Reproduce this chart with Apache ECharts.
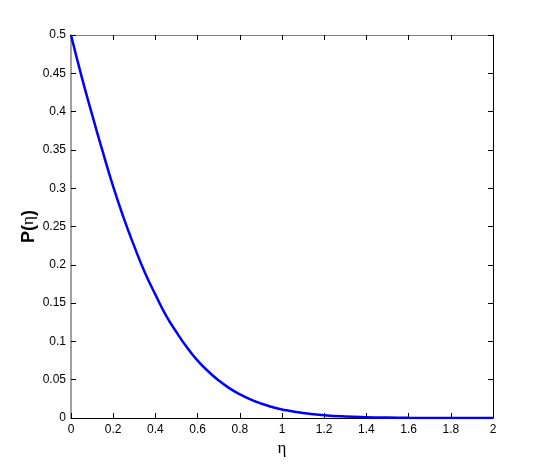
<!DOCTYPE html>
<html>
<head>
<meta charset="utf-8">
<script src="https://cdn.jsdelivr.net/npm/echarts@6/dist/echarts.min.js"></script>
<style>
  html, body { margin: 0; padding: 0; background: #fff; }
  #chart { width: 545px; height: 471px; }
</style>
</head>
<body>
<div id="chart"></div>
<script>
// values
const etaValues = [0, 0.05, 0.1, 0.15, 0.2, 0.25, 0.3, 0.35, 0.4, 0.45, 0.5, 0.55, 0.6, 0.65, 0.7, 0.75, 0.8, 0.85, 0.9, 0.95, 1.0, 1.1, 1.2, 1.3, 1.4, 1.5, 1.6, 1.7, 1.8, 1.9, 2.0];
const pValues = [0.5, 0.446, 0.396, 0.348, 0.302, 0.261, 0.224, 0.19, 0.161, 0.134, 0.112, 0.092, 0.075, 0.061, 0.049, 0.039, 0.031, 0.0243, 0.0189, 0.0146, 0.0112, 0.0064, 0.0036, 0.0019, 0.001, 0.0005, 0.0002, 0.0001, 0, 0, 0];
const xTicks = { min: 0, max: 2, step: 0.2 };
const yTicks = { min: 0, max: 0.5, step: 0.05 };

const chartDom = document.getElementById("chart");
const myChart = echarts.init(chartDom);

const labelFont = { color: "#000", fontSize: 12, fontFamily: "Liberation Sans" };

const seriesData = etaValues.map((x, i) => [x, pValues[i]]);

// mirrored axes for the top and right sides of the box
const boxAxis = (position, color) => ({
  type: "value",
  position: position,
  axisLine: { onZero: false, lineStyle: { color: color, width: 1 } },
  axisTick: { inside: true, length: 5, lineStyle: { color: "#000" } },
  axisLabel: { show: false },
  splitLine: { show: false },
});

let option = {
  animation: false,
  grid: { left: 71, right: 52, top: 35, bottom: 53 },
  xAxis: [
    {
      type: "value",
      min: xTicks.min,
      max: xTicks.max,
      interval: xTicks.step,
      position: "bottom",
      name: "η",
      nameLocation: "middle",
      nameGap: 22,
      nameMoveOverlap: false,
      nameTextStyle: { color: "#000", fontSize: 17, fontFamily: "Liberation Serif" },
      axisLine: { onZero: false, lineStyle: { color: "#000", width: 1 } },
      axisTick: { inside: true, length: 5, lineStyle: { color: "#000" } },
      axisLabel: Object.assign({ margin: 6 }, labelFont),
      splitLine: { show: false },
    },
    Object.assign(boxAxis("top", "#808080"), {
      min: xTicks.min,
      max: xTicks.max,
      interval: xTicks.step,
    }),
  ],
  yAxis: [
    {
      type: "value",
      min: yTicks.min,
      max: yTicks.max,
      interval: yTicks.step,
      position: "left",
      name: "{a|P(}{b|η}{a|)}",
      nameLocation: "middle",
      nameGap: 33,
      nameMoveOverlap: false,
      nameTextStyle: {
        rich: {
          a: { color: "#000", fontSize: 18, fontWeight: "bold", fontFamily: "Liberation Sans" },
          b: { color: "#000", fontSize: 17, fontFamily: "Liberation Serif" },
        },
      },
      axisLine: { onZero: false, lineStyle: { color: "#808080", width: 1.5 } },
      axisTick: { inside: true, length: 5, lineStyle: { color: "#000" } },
      axisLabel: Object.assign({ margin: 5 }, labelFont),
      splitLine: { show: false },
    },
    Object.assign(boxAxis("right", "#000"), {
      min: yTicks.min,
      max: yTicks.max,
      interval: yTicks.step,
    }),
  ],
  series: [
    {
      type: "line",
      data: seriesData,
      smooth: true,
      showSymbol: false,
      lineStyle: { color: "#0000ff", width: 2.5 },
      itemStyle: { color: "#0000ff" },
    },
  ],
};

option && myChart.setOption(option);
</script>
</body>
</html>
